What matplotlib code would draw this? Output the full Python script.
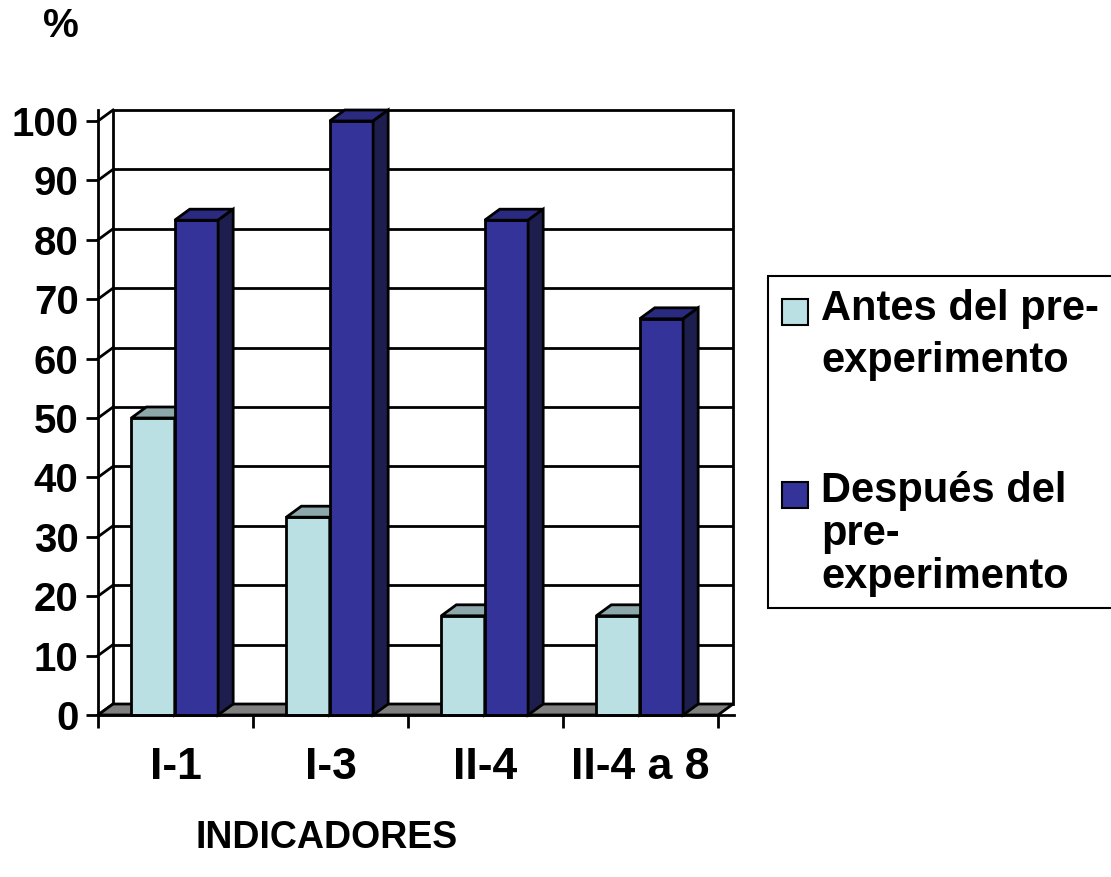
import matplotlib
matplotlib.use("Agg")
import matplotlib.pyplot as plt
from matplotlib.patches import Polygon, Rectangle

plt.rcParams['font.family'] = ['Liberation Sans', 'DejaVu Sans']
plt.rcParams['font.weight'] = 'bold'

categories = ["I-1", "I-3", "II-4", "II-4 a 8"]
antes = [50, 33.3, 16.7, 16.7]
despues = [83.3, 100, 83.3, 66.7]
series_names = ["Antes del pre-\nexperimento", "Después del\npre-\nexperimento"]
y_ticks = list(range(0, 101, 10))

LIGHT = '#BBE0E3'
LIGHT_TOP = '#8CA8AA'
LIGHT_SIDE = '#5E7072'
DARK = '#333399'
DARK_TOP = '#2A2A80'
DARK_SIDE = '#1E1E4E'

W, H = 1111, 877
fig = plt.figure(figsize=(W / 100, H / 100), dpi=100)
ax = fig.add_axes([98 / W, (H - 715) / H, (733.5 - 98) / W, (715 - 110) / H])

DX, DY = 0.097, 1.85   # depth offset in data units
bw = 0.28
ax.set_xlim(0, 4.1)
ax.set_ylim(0, 101.85)

# back wall, gridlines and side wall
ax.add_patch(Rectangle((DX, DY), 4, 100, facecolor='white', edgecolor='black',
                       lw=2, zorder=1, clip_on=False))
ax.hlines([v + DY for v in y_ticks[1:-1]], DX, 4 + DX, color='black', lw=2, zorder=1)
for v in y_ticks:
    ax.plot([0, DX], [v, v + DY], color='black', lw=2, zorder=1, clip_on=False)

# floor
ax.add_patch(Polygon([(0, 0), (4, 0), (4 + DX, DY), (DX, DY)], closed=True,
                     facecolor='#808080', edgecolor='black', lw=2, zorder=2, clip_on=False))


def bars3d(lefts, vals, front, top, side, z):
    ax.bar(lefts, vals, width=bw, align='edge', color=front, edgecolor='black',
           linewidth=2, zorder=z, clip_on=False)
    for x0, v in zip(lefts, vals):
        ax.add_patch(Polygon([(x0, v), (x0 + bw, v), (x0 + bw + DX, v + DY), (x0 + DX, v + DY)],
                             facecolor=top, edgecolor='black', lw=2, zorder=z, clip_on=False))
        ax.add_patch(Polygon([(x0 + bw, 0), (x0 + bw + DX, DY), (x0 + bw + DX, v + DY), (x0 + bw, v)],
                             facecolor=side, edgecolor='black', lw=2, zorder=z, clip_on=False))


idx = range(len(categories))
bars3d([i + 0.495 - bw for i in idx], antes, LIGHT, LIGHT_TOP, LIGHT_SIDE, 3)
bars3d([i + 0.495 for i in idx], despues, DARK, DARK_TOP, DARK_SIDE, 4)

# axes
for s in ['top', 'right']:
    ax.spines[s].set_visible(False)
for s in ['left', 'bottom']:
    ax.spines[s].set_linewidth(2)
    ax.spines[s].set_zorder(5)
ax.set_yticks(y_ticks)
ax.tick_params(axis='y', length=9, width=2, pad=5, labelsize=29)
ax.set_xticks(range(5))
ax.set_xticklabels([])
ax.tick_params(axis='x', which='major', length=9, width=2)
ax.set_xticks([i + 0.5 for i in idx], minor=True)
ax.set_xticklabels(categories, minor=True, fontsize=32)
ax.tick_params(axis='x', which='minor', length=0, pad=23)

fig.text(61 / W, 1 - 26 / H, "%", fontsize=29, ha='center', va='center')
fig.text(327 / W, 1 - 838 / H, "INDICADORES", fontsize=27, ha='center', va='center')

# legend box
fig.patches.append(Rectangle((768 / W, 1 - 608 / H), 1.02 - 768 / W, (608 - 276) / H,
                             transform=fig.transFigure, facecolor='white',
                             edgecolor='black', lw=1.5))
for (y_sq, col) in [(299, LIGHT), (482, DARK)]:
    fig.patches.append(Rectangle((782 / W, 1 - (y_sq + 26) / H), 26 / W, 26 / H,
                                 transform=fig.transFigure, facecolor=col,
                                 edgecolor='black', lw=1.5))
baselines = [[320, 372], [502, 545, 588]]
for name, bls in zip(series_names, baselines):
    for line, b in zip(name.split("\n"), bls):
        fig.text(821 / W, 1 - b / H, line, fontsize=30, ha='left', va='baseline')

fig.savefig("out.png", dpi=100)
